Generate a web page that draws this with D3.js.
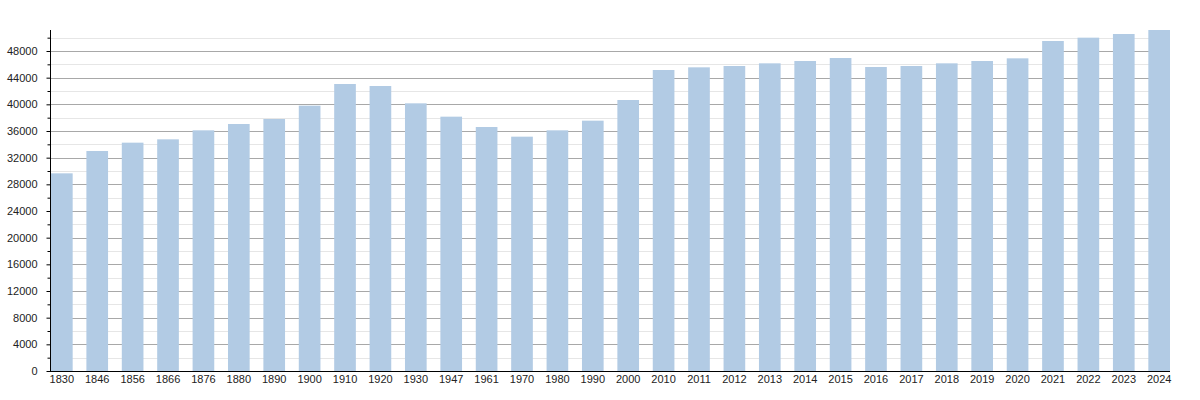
<!DOCTYPE html>
<html>
<head>
<meta charset="utf-8">
<script src="https://cdn.jsdelivr.net/npm/d3@7"></script>
<style>
  body { margin: 0; background: #fff; }
  text { font-family: "Liberation Sans", Arial, sans-serif; font-size: 11px; fill: #222; }
</style>
</head>
<body>
<div class="chart"></div>
<script>
// population by census year
var years = ["1830", "1846", "1856", "1866", "1876", "1880", "1890", "1900", "1910", "1920",
  "1930", "1947", "1961", "1970", "1980", "1990", "2000", "2010", "2011", "2012",
  "2013", "2014", "2015", "2016", "2017", "2018", "2019", "2020", "2021", "2022",
  "2023", "2024"];
var population = [29650, 33000, 34250, 34750, 36100, 37050, 37800, 39800, 43050, 42750,
  40150, 38150, 36600, 35150, 36100, 37550, 40650, 45150, 45550, 45750,
  46150, 46500, 46950, 45600, 45750, 46150, 46500, 46900, 49500, 50000,
  50550, 51150];
var majorTicks = d3.range(0, 48001, 4000);
var minorTicks = d3.range(2000, 50001, 4000);

var width = 1200, height = 400;
var plotLeft = 50, plotRight = 1170, plotBottom = 371, plotTop = 30;

var svg = d3.select(".chart").append("svg")
  .attr("width", width)
  .attr("height", height);

var x = d3.scaleBand()
  .domain(years)
  .range([plotLeft + 1, plotRight])
  .paddingInner(0.388)
  .paddingOuter(0);

var y = d3.scaleLinear()
  .domain([0, 51150])
  .range([plotBottom, plotTop]);

// minor grid
svg.append("g")
  .selectAll("line")
  .data(minorTicks)
  .enter().append("line")
  .attr("x1", plotLeft).attr("x2", plotRight)
  .attr("y1", function(d) { return Math.round(y(d)) + 0.5; })
  .attr("y2", function(d) { return Math.round(y(d)) + 0.5; })
  .attr("stroke", "#e6e6e6");

// major grid
svg.append("g")
  .selectAll("line")
  .data(majorTicks.slice(1))
  .enter().append("line")
  .attr("x1", plotLeft).attr("x2", plotRight)
  .attr("y1", function(d) { return Math.round(y(d)) + 0.5; })
  .attr("y2", function(d) { return Math.round(y(d)) + 0.5; })
  .attr("stroke", "#a8a8a8");

// bars
svg.append("g")
  .selectAll("rect")
  .data(population)
  .enter().append("rect")
  .attr("x", function(d, i) { return x(years[i]); })
  .attr("width", x.bandwidth())
  .attr("y", function(d) { return y(d); })
  .attr("height", function(d) { return plotBottom - y(d); })
  .attr("fill", "#b2cbe4");

// y axis, major ticks with labels
var yAxis = svg.append("g")
  .attr("transform", "translate(" + (plotLeft + 0.5) + ",0)")
  .call(d3.axisLeft(y).tickValues(majorTicks).tickSize(4).tickPadding(9).tickFormat(d3.format("d")));

// minor ticks
svg.append("g")
  .attr("transform", "translate(" + (plotLeft + 0.5) + ",0)")
  .call(d3.axisLeft(y).tickValues(minorTicks).tickSize(3).tickFormat(""))
  .call(function(g) { g.select(".domain").remove(); });

yAxis.select(".domain").attr("d", "M0," + plotTop + "V" + plotBottom);
yAxis.selectAll("line").attr("stroke", "#000");

// x axis
var xAxis = svg.append("g")
  .attr("transform", "translate(0," + (plotBottom + 0.5) + ")")
  .call(d3.axisBottom(x).tickSize(0).tickPadding(4));
xAxis.select(".domain").attr("d", "M" + plotLeft + ",0H" + plotRight).attr("stroke", "#000");

svg.selectAll(".tick text").style("font-size", "11px").attr("fill", "#222");
svg.selectAll("g").attr("font-family", null).attr("font-size", null);
</script>
</body>
</html>
